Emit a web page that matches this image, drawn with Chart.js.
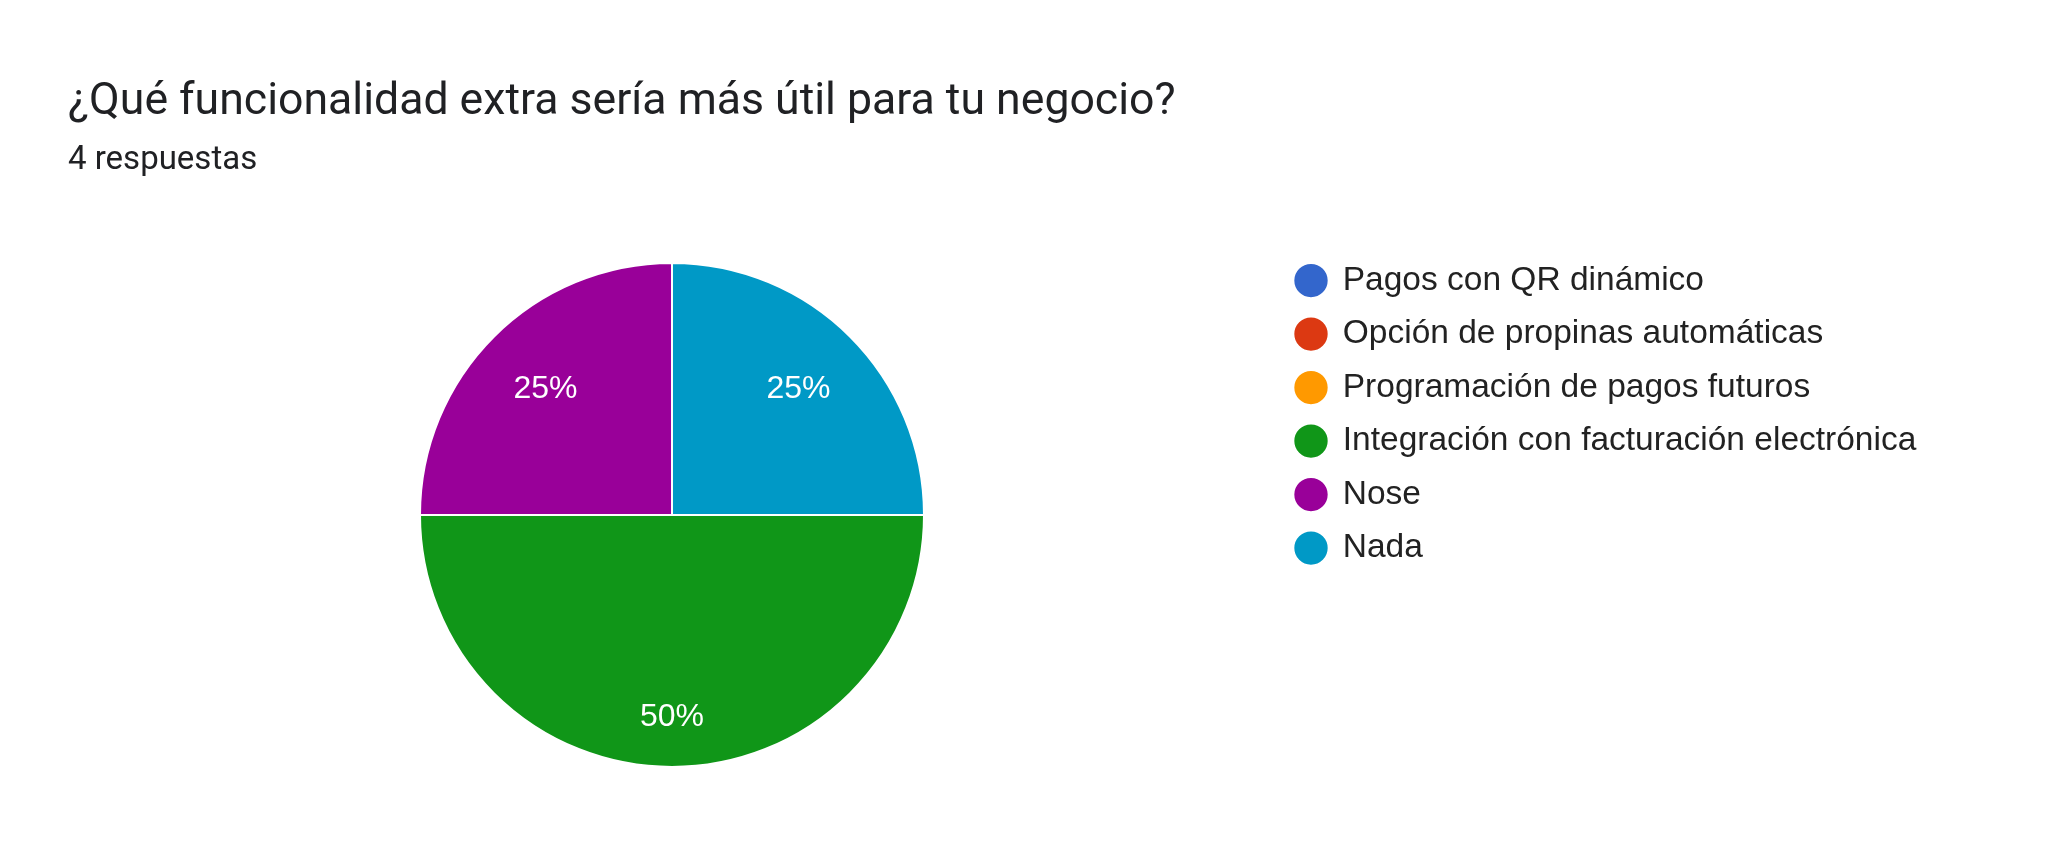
<!DOCTYPE html>
<html lang="es">
	<head>
		<meta charset="utf-8" />
		<title>Funcionalidad extra</title>
		<script src="https://cdn.jsdelivr.net/npm/chart.js@4.4.1/dist/chart.umd.min.js"></script>
		<style>
			html,
			body {
				margin: 0;
				padding: 0;
				background: #fff;
			}
			#chart {
				display: block;
			}
		</style>
	</head>
	<body>
		<canvas id="chart" width="2048" height="862"></canvas>

		<script>
			const chartTitle = "¿Qué funcionalidad extra sería más útil para tu negocio?";
			const chartSubtitle = "4 respuestas";
			const categories = [
				"Pagos con QR dinámico",
				"Opción de propinas automáticas",
				"Programación de pagos futuros",
				"Integración con facturación electrónica",
				"Nose",
				"Nada",
			];
			const responses = [0, 0, 0, 2, 1, 1];
			const sliceColors = ["#3366cc", "#dc3912", "#ff9900", "#109618", "#990099", "#0099c6"];

			const legendFont = { family: "'Liberation Sans', Arial, sans-serif", size: 33.5 };
			const legendPadding = 20;
			const legendBox = 30;
			const legendLeft = 1276;

			// measure the longest label so the legend box lands where it should
			const measure = document.createElement("canvas").getContext("2d");
			measure.font = legendFont.size + "px " + legendFont.family;
			const longest = Math.max(...categories.map((c) => measure.measureText(c).width));
			const legendWidth = legendPadding + legendBox + legendFont.size / 2 + longest + 10;
			const rightPad = 2048 - legendLeft - legendWidth;

			const total = responses.reduce((a, b) => a + b, 0);

			// percent labels inside the slices
			const sliceLabels = {
				id: "sliceLabels",
				afterDatasetsDraw(chart) {
					const { ctx } = chart;
					const meta = chart.getDatasetMeta(0);
					ctx.save();
					ctx.font = "32px 'Liberation Sans', Arial, sans-serif";
					ctx.fillStyle = "#fff";
					ctx.textAlign = "center";
					ctx.textBaseline = "middle";
					meta.data.forEach((arc, i) => {
						if (!responses[i]) return;
						const { x, y, startAngle, endAngle, outerRadius } = arc.getProps(
							["x", "y", "startAngle", "endAngle", "outerRadius"],
							true
						);
						const mid = (startAngle + endAngle) / 2;
						const span = endAngle - startAngle;
						const r = outerRadius * (0.62 + (0.18 * span) / Math.PI);
						const pct = Math.round((responses[i] / total) * 100) + "%";
						ctx.fillText(pct, x + Math.cos(mid) * r, y + Math.sin(mid) * r + 1);
					});
					ctx.restore();
				},
			};

			new Chart(document.getElementById("chart"), {
				type: "pie",
				data: {
					labels: categories,
					datasets: [
						{
							data: responses,
							backgroundColor: sliceColors,
							borderColor: "#fff",
							borderWidth: 2,
						},
					],
				},
				options: {
					responsive: false,
					animation: false,
					devicePixelRatio: 1,
					rotation: 90,
					radius: 252,
					layout: { padding: { top: 0, left: 68, right: rightPad, bottom: 73 } },
					plugins: {
						title: {
							display: true,
							text: chartTitle,
							align: "start",
							color: "#202124",
							font: { family: "Roboto", size: 44.6, weight: "normal" },
							padding: { top: 75.6, bottom: 0 },
						},
						subtitle: {
							display: true,
							text: chartSubtitle,
							align: "start",
							color: "#202124",
							font: { family: "Roboto", size: 33, weight: "normal" },
							padding: { top: 11.4, bottom: 60.7 },
						},
						legend: {
							position: "right",
							align: "start",
							fullSize: false,
							// empty title, only used to push the rows down a little
							title: { display: true, text: "", font: { size: 0 }, padding: { top: 3, bottom: 0 } },
							labels: {
								usePointStyle: true,
								pointStyle: "circle",
								boxWidth: legendBox,
								boxHeight: 25,
								padding: legendPadding,
								color: "#222",
								font: legendFont,
							},
						},
						tooltip: { enabled: false },
					},
				},
				plugins: [sliceLabels],
			});
		</script>
	</body>
</html>
